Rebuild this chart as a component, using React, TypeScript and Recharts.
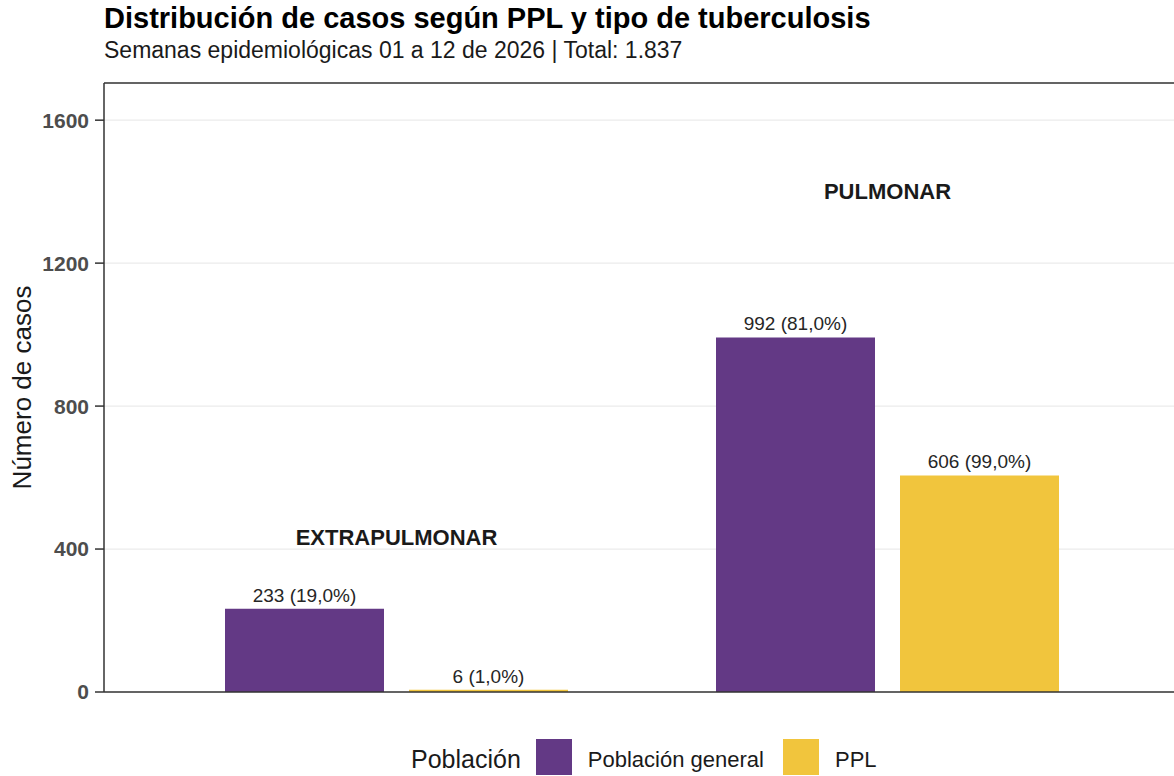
import React from 'react';
import {
  BarChart,
  Bar,
  XAxis,
  YAxis,
  CartesianGrid,
  LabelList,
  ReferenceDot,
  ReferenceLine,
} from 'recharts';

const tipos = ['EXTRAPULMONAR', 'PULMONAR'];
const poblacionGeneral = [233, 992];
const ppl = [6, 606];
const pctGeneral = [19.0, 81.0];
const pctPpl = [1.0, 99.0];
const etiquetaY = [432, 1400];
const yTicks = [0, 400, 800, 1200, 1600];
const yMax = 1704;

const PURPLE = '#633985';
const YELLOW = '#F1C53D';
const FONT = '"Liberation Sans", Arial, sans-serif';

const fmtPct = (v: number) => v.toFixed(1).replace('.', ',') + '%';

const data = tipos.map((tipo, i) => ({
  tipo,
  general: poblacionGeneral[i],
  ppl: ppl[i],
  generalLabel: `${poblacionGeneral[i]} (${fmtPct(pctGeneral[i])})`,
  pplLabel: `${ppl[i]} (${fmtPct(pctPpl[i])})`,
}));

const legendItems = [
  { name: 'Población general', color: PURPLE },
  { name: 'PPL', color: YELLOW },
];

const App: React.FC = () => {
  return (
    <div
      style={{
        position: 'absolute',
        left: 0,
        top: 0,
        width: 1174,
        height: 776,
        overflow: 'hidden',
        background: '#fff',
        fontFamily: FONT,
      }}
    >
      <div style={{ position: 'absolute', left: 104, top: 2, fontSize: 29, lineHeight: '32px', fontWeight: 'bold', color: '#000', whiteSpace: 'nowrap' }}>
        Distribución de casos según PPL y tipo de tuberculosis
      </div>
      <div style={{ position: 'absolute', left: 104, top: 37, fontSize: 23, lineHeight: '26px', color: '#1a1a1a', whiteSpace: 'nowrap' }}>
        Semanas epidemiológicas 01 a 12 de 2026 | Total: 1.837
      </div>

      <div style={{ position: 'absolute', left: 0, top: 0 }}>
        <BarChart
          width={1180}
          height={776}
          data={data}
          margin={{ top: 83, right: 0, bottom: 74, left: 0 }}
          barSize={159}
          barGap={25}
        >
          <CartesianGrid vertical={false} stroke="#ebebeb" strokeWidth={1.2} />
          <XAxis
            dataKey="tipo"
            tick={false}
            tickSize={6}
            height={10}
            padding={{ left: 47, right: 47 }}
            axisLine={{ stroke: '#333', strokeWidth: 1.5 }}
            tickLine={{ stroke: '#333', strokeWidth: 1.5 }}
          />
          <YAxis
            width={104}
            domain={[0, yMax]}
            ticks={yTicks}
            tickSize={9}
            tickMargin={6}
            axisLine={{ stroke: '#333', strokeWidth: 1.5 }}
            tickLine={{ stroke: '#333', strokeWidth: 1.5 }}
            tick={{ fill: '#4d4d4d', fontSize: 21, fontWeight: 'bold', fontFamily: FONT }}
            label={{
              value: 'Número de casos',
              angle: -90,
              position: 'insideLeft',
              offset: 22,
              style: { textAnchor: 'middle', fontSize: 26, fill: '#1a1a1a', fontFamily: FONT },
            }}
          />
          <ReferenceLine y={yMax} stroke="#333" strokeWidth={1.5} />
          <Bar dataKey="general" name="Población general" fill={PURPLE} isAnimationActive={false}>
            <LabelList dataKey="generalLabel" position="top" offset={7} fill="#262626" fontSize={19} fontFamily={FONT} />
          </Bar>
          <Bar dataKey="ppl" name="PPL" fill={YELLOW} isAnimationActive={false}>
            <LabelList dataKey="pplLabel" position="top" offset={7} fill="#262626" fontSize={19} fontFamily={FONT} />
          </Bar>
          {tipos.map((tipo, i) => (
            <ReferenceDot
              key={tipo}
              x={tipo}
              y={etiquetaY[i]}
              r={0}
              label={{ value: tipo, position: 'center', fontSize: 22, fontWeight: 'bold', fill: '#1a1a1a', fontFamily: FONT }}
            />
          ))}
        </BarChart>
      </div>

      <div style={{ position: 'absolute', left: 411, top: 739, display: 'flex', alignItems: 'center', height: 36, whiteSpace: 'nowrap' }}>
        <span style={{ fontSize: 25, color: '#1a1a1a', marginRight: 15, marginTop: 5 }}>Población</span>
        {legendItems.map((item) => (
          <React.Fragment key={item.name}>
            <span style={{ display: 'inline-block', width: 36, height: 36, background: item.color }} />
            <span style={{ fontSize: 22, color: '#1a1a1a', marginLeft: 16, marginRight: 19, marginTop: 5 }}>{item.name}</span>
          </React.Fragment>
        ))}
      </div>
    </div>
  );
};

export default App;
